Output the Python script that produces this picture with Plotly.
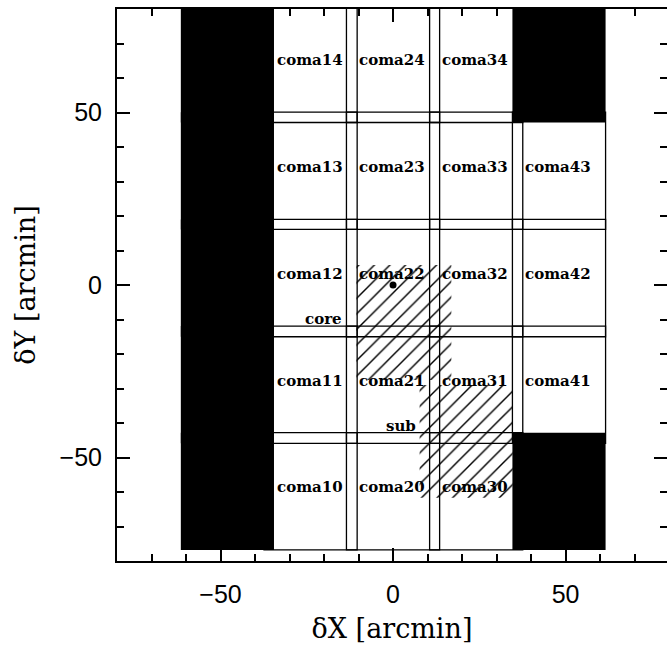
import plotly.graph_objects as go

# ---------------- data ----------------
col_left = [-61.5, -37.4, -13.5, 10.6, 34.6]      # field left edges [arcmin]
row_bottom = [-76.8, -45.9, -15.0, 16.1, 47.1]    # field bottom edges [arcmin]
field_width = 27.0
field_height = 34.0

field_names = ["coma10", "coma11", "coma12", "coma13", "coma14",
               "coma20", "coma21", "coma22", "coma23", "coma24",
               "coma30", "coma31", "coma32", "coma33", "coma34",
               "coma41", "coma42", "coma43"]
field_col = [1, 1, 1, 1, 1, 2, 2, 2, 2, 2, 3, 3, 3, 3, 3, 4, 4, 4]
field_row = [0, 1, 2, 3, 4, 0, 1, 2, 3, 4, 0, 1, 2, 3, 4, 1, 2, 3]

masked_col = [0, 0, 0, 0, 0, 4, 4]
masked_row = [0, 1, 2, 3, 4, 0, 4]

region_names = ["core", "sub"]
region_x0 = [-10.6, 7.7]
region_x1 = [16.9, 34.7]
region_y0 = [-27.5, -61.7]
region_y1 = [5.8, -29.0]
region_label_x = [-14.4, 6.9]
region_label_y = [-11.9, -42.8]

center_x = [0.0]
center_y = [0.0]

x_range = [-80, 79.4]
y_range = [-80, 80]
major_ticks = [-50, 0, 50]

# ---------------- figure ----------------
fig = go.Figure()

shapes = []
for c, r in zip(field_col, field_row):
    x0 = col_left[c]
    y0 = row_bottom[r]
    shapes.append(dict(type="rect", xref="x", yref="y",
                       x0=x0, x1=x0 + field_width, y0=y0, y1=y0 + field_height,
                       line=dict(color="black", width=1.3), fillcolor="rgba(0,0,0,0)",
                       layer="above"))
for c, r in zip(masked_col, masked_row):
    x0 = col_left[c]
    y0 = row_bottom[r]
    shapes.append(dict(type="rect", xref="x", yref="y",
                       x0=x0, x1=x0 + field_width, y0=y0, y1=y0 + field_height,
                       line=dict(color="black", width=0), fillcolor="black",
                       layer="above"))

for i in range(len(region_names)):
    xs = [region_x0[i], region_x1[i], region_x1[i], region_x0[i], region_x0[i]]
    ys = [region_y0[i], region_y0[i], region_y1[i], region_y1[i], region_y0[i]]
    fig.add_trace(go.Scatter(
        x=xs, y=ys, mode="lines", fill="toself", fillcolor="rgba(0,0,0,0)",
        fillpattern=dict(shape="/", size=11, solidity=0.13, fgcolor="black",
                         fgopacity=1, bgcolor="rgba(0,0,0,0)", fillmode="overlay"),
        line=dict(width=0, color="rgba(0,0,0,0)"),
        hoverinfo="skip", showlegend=False))

fig.add_trace(go.Scatter(x=center_x, y=center_y, mode="markers",
                         marker=dict(size=7, color="black"),
                         hoverinfo="skip", showlegend=False))
fig.add_trace(go.Scatter(x=[None], y=[None], yaxis="y2", mode="markers",
                         hoverinfo="skip", showlegend=False))

annotations = []
label_font = dict(family="DejaVu Serif", size=15, color="black", weight="bold")
for name, c, r in zip(field_names, field_col, field_row):
    annotations.append(dict(x=col_left[c] + 3.4, y=row_bottom[r] + 18.2,
                            xref="x", yref="y", text=name, showarrow=False,
                            xanchor="left", yanchor="middle", borderpad=0,
                            font=label_font))
for i in range(len(region_names)):
    annotations.append(dict(x=region_label_x[i], y=region_label_y[i],
                            xref="x", yref="y", text=region_names[i], showarrow=False,
                            xanchor="right", yanchor="bottom", borderpad=0, yshift=-3,
                            font=label_font))

tick_font = dict(family="Liberation Sans", size=25, color="black")
title_font = dict(family="DejaVu Serif", size=27, color="black")

fig.update_layout(
    width=667, height=652,
    margin=dict(l=117, r=0, t=9, b=91),
    paper_bgcolor="white", plot_bgcolor="white",
    shapes=shapes, annotations=annotations,
    showlegend=False,
    xaxis=dict(range=x_range, tickvals=major_ticks, ticks="inside", ticklen=13,
               tickwidth=1.5, tickcolor="black", showline=True, linewidth=2,
               linecolor="black", mirror="ticks", showgrid=False, zeroline=False,
               tickfont=tick_font, ticklabelstandoff=10,
               minor=dict(dtick=10, tick0=0, ticks="inside", ticklen=7,
                          tickwidth=1.5, tickcolor="black", showgrid=False),
               title=dict(text="δX [arcmin]", font=title_font, standoff=12)),
    yaxis=dict(range=y_range, tickvals=major_ticks, ticks="inside", ticklen=13,
               tickwidth=1.5, tickcolor="black", showline=True, linewidth=2,
               linecolor="black", mirror=False, showgrid=False, zeroline=False,
               tickfont=tick_font, ticklabelstandoff=8,
               minor=dict(dtick=10, tick0=0, ticks="inside", ticklen=7,
                          tickwidth=1.5, tickcolor="black", showgrid=False),
               title=dict(text="δY [arcmin]", font=title_font, standoff=16)),
    yaxis2=dict(range=y_range, overlaying="y", side="right", tickvals=major_ticks,
                ticks="inside", ticklen=13, tickwidth=1.5, tickcolor="black",
                showline=False, showgrid=False, zeroline=False, showticklabels=False,
                minor=dict(dtick=10, tick0=0, ticks="inside", ticklen=7,
                           tickwidth=1.5, tickcolor="black", showgrid=False)),
)

fig.write_html("out.html")
